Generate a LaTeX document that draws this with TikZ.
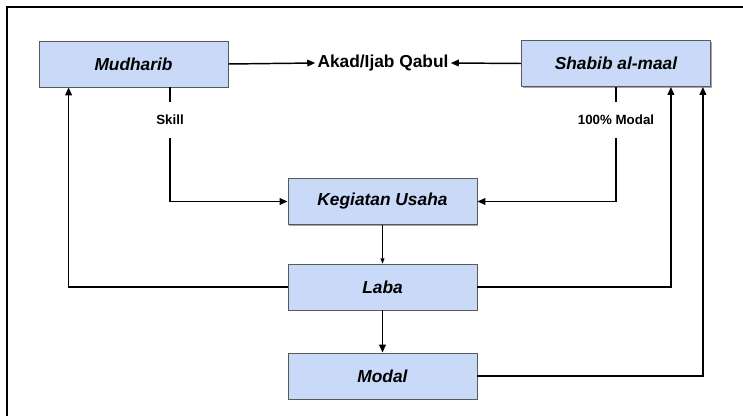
\documentclass[tikz,border=0pt]{standalone}
\usepackage{fontspec}
\setmainfont{Liberation Sans}
\usepackage{xcolor}
\usepackage{tikz}
\usetikzlibrary{arrows.meta,calc,positioning,shadows}
\definecolor{boxblue}{HTML}{C9DAF8}
\definecolor{boxline}{HTML}{595959}

\begin{document}
\begin{tikzpicture}[
    x=0.75pt, y=-0.75pt,
    actor/.style={
        rectangle, draw=boxline, line width=0.6pt, fill=boxblue,
        minimum width=141.75pt, minimum height=34.5pt,
        font=\fontsize{13}{15}\selectfont\bfseries\itshape,
        drop shadow={shadow xshift=0.8pt, shadow yshift=-0.8pt, opacity=0.35, fill=black}},
    flowlbl/.style={inner sep=0, minimum height=26pt, font=\fontsize{10}{12}\selectfont\bfseries},
    akadlbl/.style={inner sep=1.5pt, font=\fontsize{13}{15}\selectfont\bfseries},
    flow/.style={line width=1.1pt, -{Triangle[length=6pt,width=5pt]}},
    thinflow/.style={line width=0.6pt, -{Triangle[length=4pt,width=3pt]}}]

% page and frame
\clip (0,0) rectangle (743,416);
\draw[line width=1.1pt] (7,420) -- (7,7) -- (750,7);

% boxes
\node[actor] (Mudharib) at (133.5,64) {Mudharib};
\node[actor] (Shabib)   at (616,63.5) {Shabib al-maal};
\node[actor] (Kegiatan) at (382.5,201.5) {Kegiatan Usaha};
\node[actor] (Laba)     at (382.5,287) {Laba};
\node[actor] (Modal)    at (382.5,376) {Modal};

% labels
\node[akadlbl] (Akad)  at (383,63) {Akad/Ijab Qabul};
\node[flowlbl] (skill) at (170,120) {Skill};
\node[flowlbl] (dana)  at (616,120) {100\% Modal};

% connectors
\draw[flow] (Mudharib.east) -- (Akad.west);
\draw[flow] (Shabib.west) -- (Akad.east);
\draw[line width=1.1pt] (skill |- Mudharib.south) -- (skill.north);
\draw[flow] (skill.south) |- (Kegiatan.west);
\draw[line width=1.1pt] (Shabib.south) -- (dana.north);
\draw[flow] (dana.south) |- (Kegiatan.east);
\draw[thinflow] (Kegiatan.south) -- (Laba.north);
\draw[flow] (Laba.south) -- (Modal.north);
\draw[flow] (Laba.west) -| ([xshift=22.5pt]Mudharib.south west);
\draw[flow] (Laba.east) -| ([xshift=-30pt]Shabib.south east);
\draw[flow] (Modal.east) -| ([xshift=-6pt]Shabib.south east);

\end{tikzpicture}
\end{document}
